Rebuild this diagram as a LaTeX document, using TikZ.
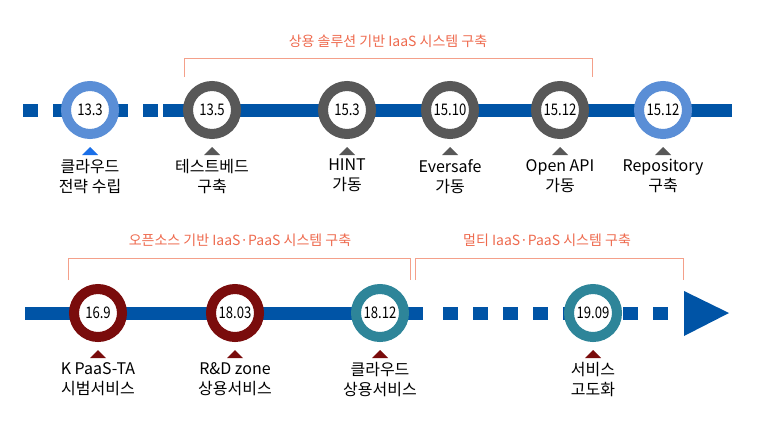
\documentclass[tikz,border=0pt]{standalone}
\usepackage{fontspec}
\setmainfont{Noto Sans CJK KR}
\newfontfamily\datefont[FakeStretch=0.82]{Noto Sans CJK KR}
\usetikzlibrary{positioning}
\definecolor{my_blue}{HTML}{0054A6}
\definecolor{my_lightblue}{HTML}{5A8ED6}
\definecolor{my_tipblue}{HTML}{1A6FE8}
\definecolor{my_gray}{HTML}{585858}
\definecolor{my_darkred}{HTML}{7A0C0C}
\definecolor{my_teal}{HTML}{2E8599}
\definecolor{my_orange}{HTML}{EE6A4E}
\definecolor{my_salmon}{HTML}{F4A08A}

\begin{document}
\begin{tikzpicture}[
    x=1pt, y=-1pt,
    track/.style={my_blue, line width=13pt},
    dot/.style={fill=my_blue},
    ring/.style={circle, draw=#1, line width=10pt, fill=white,
        minimum size=48pt, inner sep=0pt,
        font=\datefont\fontsize{16}{16}\selectfont},
    caption/.style={anchor=north, align=center, inner sep=0pt,
        font=\fontsize{16}{20}\selectfont},
    bracket/.style={my_salmon, line width=0.9pt},
    phase/.style={my_orange, font=\fontsize{14}{14}\selectfont}
]
\useasboundingbox (0,0) rectangle (770,420);

% ===== Obere Zeile =====
\foreach \x in {23, 53, ..., 143}
    \fill[dot] (\x, 103.5) rectangle ++(15, 13);
\draw[track] (163, 110) -- (732, 110);

\foreach \n/\x/\d/\c/\t/\tc in {
    a1/90/13.3/my_lightblue/{클라우드\\전략 수립}/my_tipblue,
    a2/212/13.5/my_gray/{테스트베드\\구축}/my_gray,
    a3/347/15.3/my_gray/{HINT\\가동}/my_gray,
    a4/450/15.10/my_gray/{Eversafe\\가동}/my_gray,
    a5/560/15.12/my_gray/{Open API\\가동}/my_gray,
    a6/663/15.12/my_lightblue/{Repository\\구축}/my_gray} {
    \node[ring=\c] (\n) at (\x, 110) {\d};
    \fill[\tc] ([yshift=-8pt]\n.south) -- ++(-8, 8) -- ++(16, 0) -- cycle;
    \node[caption] (\n l) at (\x, 159) {\t};
}

% Phase oben
\draw[bracket] (184, 77) -- (184, 58) -- (592, 58) -- (592, 77);
\node[phase] (p1) at (388, 41) {상용 솔루션 기반 IaaS 시스템 구축};

% ===== Untere Zeile =====
\draw[track] (25, 313) -- (423, 313);
\foreach \x in {443, 473, ..., 653}
    \fill[dot] (\x, 306.5) rectangle ++(15, 13);
\fill[my_blue] (684, 291) -- (729, 313) -- (684, 336) -- cycle;

\foreach \n/\x/\d/\c/\t in {
    b1/98/16.9/my_darkred/{K PaaS-TA\\시범서비스},
    b2/235/18.03/my_darkred/{R\&D zone\\상용서비스},
    b3/380/18.12/my_teal/{클라우드\\상용서비스},
    b4/593/19.09/my_teal/{서비스\\고도화}} {
    \node[ring=\c] (\n) at (\x, 313) {\d};
    \fill[my_darkred] ([yshift=-8pt]\n.south) -- ++(-8, 8) -- ++(16, 0) -- cycle;
    \node[caption] (\n l) at (\x, 362) {\t};
}

% Phasen unten
\draw[bracket] (68, 280) -- (68, 258) -- (410, 258) -- (410, 280);
\node[phase] (p2) at (240, 240) {오픈소스 기반 IaaS·PaaS 시스템 구축};
\draw[bracket] (415, 280) -- (415, 258) -- (683, 258) -- (683, 280);
\node[phase] (p3) at (547, 240) {멀티 IaaS·PaaS 시스템 구축};

\end{tikzpicture}
\end{document}
